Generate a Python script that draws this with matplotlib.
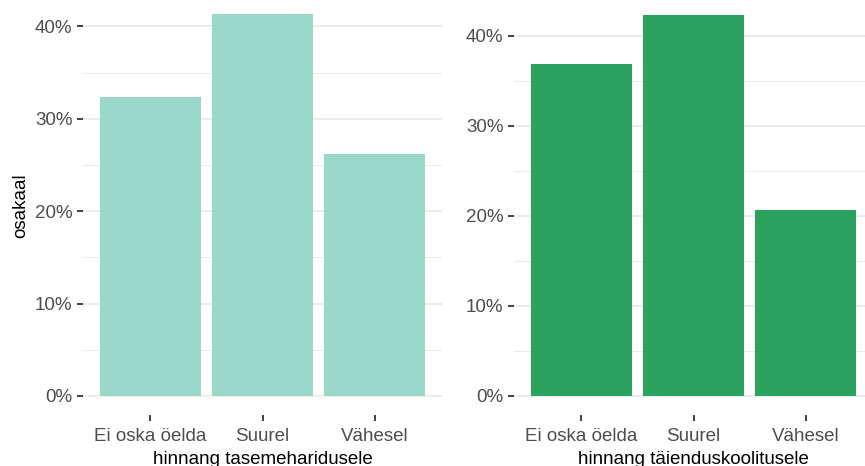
import numpy as np
import matplotlib
matplotlib.use('Agg')
import matplotlib.pyplot as plt
from matplotlib.ticker import FuncFormatter, MultipleLocator

plt.rcParams['font.family'] = ['Liberation Sans', 'DejaVu Sans']

categories = ['Ei oska öelda', 'Suurel', 'Vähesel']
tase_values = [32.4, 41.3, 26.2]
taiend_values = [36.9, 42.3, 20.7]
titles = ['hinnang tasemeharidusele', 'hinnang täienduskoolitusele']
colors = ['#99d8c9', '#2ca25f']

W, H = 865, 466
fig = plt.figure(figsize=(W / 100, H / 100), dpi=100)


def panel(x0, x1, zero_px, px_per_unit, vmax):
    # ggplot-like 5% expansion of the y range; returns axes placed by pixels
    exp = vmax * 0.05
    bottom_px = zero_px + exp * px_per_unit
    top_px = zero_px - (vmax + exp) * px_per_unit
    ax = fig.add_axes([x0 / W, (H - bottom_px) / H, (x1 - x0) / W, (bottom_px - top_px) / H])
    ax.set_ylim(-exp, vmax + exp)
    return ax


axes = [panel(83, 442, 396, 9.24, max(tase_values)),
        panel(514, 873, 396, 9.0, max(taiend_values))]

for i, (ax, vals) in enumerate(zip(axes, [tase_values, taiend_values])):
    x = np.arange(1, len(categories) + 1)
    ax.bar(x, vals, width=0.9, color=colors[i], zorder=2)
    ax.set_xlim(0.4, 3.6)
    ax.set_xticks(x)
    ax.set_xticklabels(categories)
    ax.yaxis.set_major_locator(MultipleLocator(10))
    ax.yaxis.set_minor_locator(MultipleLocator(5))
    ax.yaxis.set_major_formatter(FuncFormatter(lambda v, p: '%d%%' % round(v)))
    ax.grid(axis='y', which='major', color='#ebebeb', linewidth=1.3, zorder=0)
    ax.grid(axis='y', which='minor', color='#ebebeb', linewidth=0.7, zorder=0)
    ax.grid(axis='x', visible=False)
    for s in ax.spines.values():
        s.set_visible(False)
    ax.tick_params(axis='both', which='major', color='#333333', width=1.3, length=4.5,
                   labelsize=13.5, labelcolor='#4d4d4d', pad=3)
    ax.tick_params(axis='x', pad=5)
    ax.tick_params(axis='y', which='minor', length=0)
    ax.set_xlabel(titles[i], fontsize=13.5, color='black', labelpad=4)
    ax.set_facecolor('none')

axes[0].set_ylabel('osakaal', fontsize=13.5, color='black', labelpad=4)

fig.savefig('out.png', dpi=100)
